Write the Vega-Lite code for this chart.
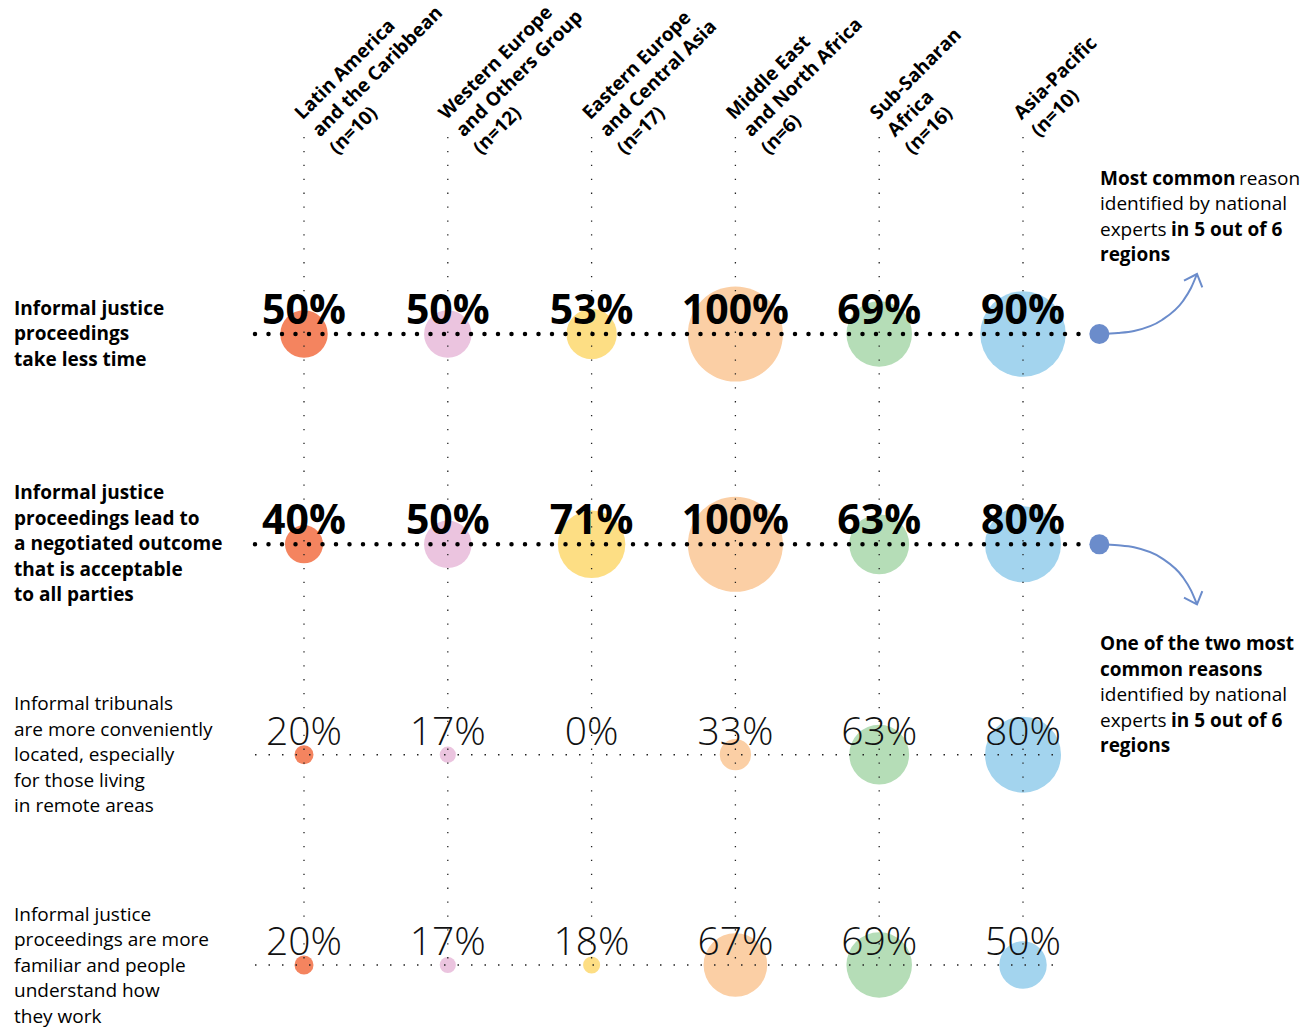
{
  "$schema": "https://vega.github.io/schema/vega-lite/v6.json",
  "width": 1314,
  "height": 1029,
  "autosize": {"type": "none"},
  "padding": 0,
  "background": "white",
  "config": {"view": {"stroke": null}, "text": {"font": "Open Sans", "color": "#000"}},
  "datasets": {
    "cells": [
      {"region": "Latin America and the Caribbean", "reason": "less time", "x": 1, "y": 1, "value": 0.50},
      {"region": "Western Europe and Others Group", "reason": "less time", "x": 2, "y": 1, "value": 0.50},
      {"region": "Eastern Europe and Central Asia", "reason": "less time", "x": 3, "y": 1, "value": 0.53},
      {"region": "Middle East and North Africa", "reason": "less time", "x": 4, "y": 1, "value": 1.00},
      {"region": "Sub-Saharan Africa", "reason": "less time", "x": 5, "y": 1, "value": 0.69},
      {"region": "Asia-Pacific", "reason": "less time", "x": 6, "y": 1, "value": 0.90},
      {"region": "Latin America and the Caribbean", "reason": "negotiated outcome", "x": 1, "y": 2, "value": 0.40},
      {"region": "Western Europe and Others Group", "reason": "negotiated outcome", "x": 2, "y": 2, "value": 0.50},
      {"region": "Eastern Europe and Central Asia", "reason": "negotiated outcome", "x": 3, "y": 2, "value": 0.71},
      {"region": "Middle East and North Africa", "reason": "negotiated outcome", "x": 4, "y": 2, "value": 1.00},
      {"region": "Sub-Saharan Africa", "reason": "negotiated outcome", "x": 5, "y": 2, "value": 0.63},
      {"region": "Asia-Pacific", "reason": "negotiated outcome", "x": 6, "y": 2, "value": 0.80},
      {"region": "Latin America and the Caribbean", "reason": "conveniently located", "x": 1, "y": 3, "value": 0.20},
      {"region": "Western Europe and Others Group", "reason": "conveniently located", "x": 2, "y": 3, "value": 0.17},
      {"region": "Eastern Europe and Central Asia", "reason": "conveniently located", "x": 3, "y": 3, "value": 0.00},
      {"region": "Middle East and North Africa", "reason": "conveniently located", "x": 4, "y": 3, "value": 0.33},
      {"region": "Sub-Saharan Africa", "reason": "conveniently located", "x": 5, "y": 3, "value": 0.63},
      {"region": "Asia-Pacific", "reason": "conveniently located", "x": 6, "y": 3, "value": 0.80},
      {"region": "Latin America and the Caribbean", "reason": "more familiar", "x": 1, "y": 4, "value": 0.20},
      {"region": "Western Europe and Others Group", "reason": "more familiar", "x": 2, "y": 4, "value": 0.17},
      {"region": "Eastern Europe and Central Asia", "reason": "more familiar", "x": 3, "y": 4, "value": 0.18},
      {"region": "Middle East and North Africa", "reason": "more familiar", "x": 4, "y": 4, "value": 0.67},
      {"region": "Sub-Saharan Africa", "reason": "more familiar", "x": 5, "y": 4, "value": 0.69},
      {"region": "Asia-Pacific", "reason": "more familiar", "x": 6, "y": 4, "value": 0.50}
    ],
    "regions": [
      {"x": 1, "header": "Latin America\nand the Caribbean\n(n=10)"},
      {"x": 2, "header": "Western Europe\nand Others Group\n(n=12)"},
      {"x": 3, "header": "Eastern Europe\nand Central Asia\n(n=17)"},
      {"x": 4, "header": "Middle East\nand North Africa\n(n=6)"},
      {"x": 5, "header": "Sub-Saharan\nAfrica\n(n=16)"},
      {"x": 6, "header": "Asia-Pacific\n(n=10)"}
    ],
    "reasons": [
      {"y": 1, "strong": true, "label": "Informal justice\nproceedings\ntake less time"},
      {"y": 2, "strong": true, "label": "Informal justice\nproceedings lead to\na negotiated outcome\nthat is acceptable\nto all parties"},
      {"y": 3, "strong": false, "label": "Informal tribunals\nare more conveniently\nlocated, especially\nfor those living\nin remote areas"},
      {"y": 4, "strong": false, "label": "Informal justice\nproceedings are more\nfamiliar and people\nunderstand how\nthey work"}
    ],
    "notes": [
      {"x": 6.5355, "y": 0.2916, "bold": true, "text": "Most common"},
      {"x": 7.5021, "y": 0.2916, "bold": false, "text": "reason"},
      {"x": 6.5355, "y": 0.4128, "bold": false, "text": "identified by national"},
      {"x": 6.5355, "y": 0.5341, "bold": false, "text": "experts"},
      {"x": 7.0292, "y": 0.5341, "bold": true, "text": "in 5 out of 6"},
      {"x": 6.5355, "y": 0.6553, "bold": true, "text": "regions"},
      {"x": 6.5355, "y": 2.5024, "bold": true, "text": "One of the two most"},
      {"x": 6.5355, "y": 2.6241, "bold": true, "text": "common reasons"},
      {"x": 6.5355, "y": 2.7458, "bold": false, "text": "identified by national"},
      {"x": 6.5355, "y": 2.8675, "bold": false, "text": "experts"},
      {"x": 7.0292, "y": 2.8675, "bold": true, "text": "in 5 out of 6"},
      {"x": 6.5355, "y": 2.9892, "bold": true, "text": "regions"}
    ],
    "curves": [
      {"id": "up", "o": 0, "x": 6.5355, "y": 1.0},
      {"id": "up", "o": 1, "x": 6.6606, "y": 0.99525},
      {"id": "up", "o": 2, "x": 6.7719, "y": 0.98574},
      {"id": "up", "o": 3, "x": 6.9666, "y": 0.93344},
      {"id": "up", "o": 4, "x": 7.1127, "y": 0.84310},
      {"id": "up", "o": 5, "x": 7.1683, "y": 0.78130},
      {"id": "up", "o": 6, "x": 7.2100, "y": 0.71474},
      {"id": "down", "o": 0, "x": 6.5355, "y": 2.0},
      {"id": "down", "o": 1, "x": 6.6606, "y": 2.00475},
      {"id": "down", "o": 2, "x": 6.7719, "y": 2.01426},
      {"id": "down", "o": 3, "x": 6.9666, "y": 2.06656},
      {"id": "down", "o": 4, "x": 7.1127, "y": 2.15690},
      {"id": "down", "o": 5, "x": 7.1683, "y": 2.21870},
      {"id": "down", "o": 6, "x": 7.2100, "y": 2.28526}
    ],
    "heads": [
      {"id": "up", "o": 0, "x": 7.1196, "y": 0.74659},
      {"id": "up", "o": 1, "x": 7.2100, "y": 0.71474},
      {"id": "up", "o": 2, "x": 7.2469, "y": 0.77797},
      {"id": "down", "o": 0, "x": 7.1196, "y": 2.25341},
      {"id": "down", "o": 1, "x": 7.2100, "y": 2.28526},
      {"id": "down", "o": 2, "x": 7.2469, "y": 2.22203}
    ],
    "dots": [
      {"x": 6.531, "y": 1},
      {"x": 6.531, "y": 2}
    ]
  },
  "layer": [
    {
      "data": {"name": "cells"},
      "mark": {"type": "point", "shape": "circle", "filled": true, "opacity": 1, "strokeWidth": 0},
      "encoding": {
        "x": {"field": "x", "type": "quantitative", "scale": {"domain": [1, 6], "range": [304, 1023], "nice": false, "zero": false}, "axis": null},
        "y": {"field": "y", "type": "quantitative", "scale": {"domain": [1, 4], "range": [334, 965], "nice": false, "zero": false}, "axis": null},
        "size": {"field": "value", "type": "quantitative", "scale": {"type": "pow", "exponent": 2, "domain": [0, 1], "range": [0, 9025]}, "legend": null},
        "color": {"field": "region", "type": "nominal", "legend": null, "scale": {
          "domain": ["Latin America and the Caribbean", "Western Europe and Others Group", "Eastern Europe and Central Asia", "Middle East and North Africa", "Sub-Saharan Africa", "Asia-Pacific"],
          "range": ["#F4845F", "#EBC4DF", "#FDDE84", "#FBCFA5", "#B5DDB7", "#A3D4EE"]}}
      }
    },
    {
      "data": {"name": "regions"},
      "mark": {"type": "rule", "color": "#222", "strokeWidth": 1.3, "strokeDash": [1.3, 12.6]},
      "encoding": {
        "x": {"field": "x", "type": "quantitative"},
        "y": {"datum": 0.0634, "type": "quantitative"},
        "y2": {"datum": 4}
      }
    },
    {
      "data": {"name": "reasons"},
      "transform": [{"filter": "datum.strong"}],
      "mark": {"type": "rule", "color": "#000", "strokeWidth": 4.5, "strokeCap": "round", "strokeDash": [0, 13.5]},
      "encoding": {
        "x": {"datum": 0.6592, "type": "quantitative"},
        "x2": {"datum": 6.4103},
        "y": {"field": "y", "type": "quantitative"}
      }
    },
    {
      "data": {"name": "reasons"},
      "transform": [{"filter": "!datum.strong"}],
      "mark": {"type": "rule", "color": "#222", "strokeWidth": 1.5, "strokeDash": [1.5, 12]},
      "encoding": {
        "x": {"datum": 0.6592, "type": "quantitative"},
        "x2": {"datum": 6.2712},
        "y": {"field": "y", "type": "quantitative"}
      }
    },
    {
      "data": {"name": "cells"},
      "transform": [{"filter": "datum.y <= 2"}],
      "mark": {"type": "text", "fontSize": 41, "fontWeight": "bold", "align": "center", "baseline": "alphabetic", "dy": -10},
      "encoding": {
        "x": {"field": "x", "type": "quantitative"},
        "y": {"field": "y", "type": "quantitative"},
        "text": {"field": "value", "type": "quantitative", "format": ".0%"}
      }
    },
    {
      "data": {"name": "cells"},
      "transform": [{"filter": "datum.y > 2"}],
      "mark": {"type": "text", "fontSize": 39, "fontWeight": 300, "align": "center", "baseline": "alphabetic", "dy": -10, "color": "#111"},
      "encoding": {
        "x": {"field": "x", "type": "quantitative"},
        "y": {"field": "y", "type": "quantitative"},
        "text": {"field": "value", "type": "quantitative", "format": ".0%"}
      }
    },
    {
      "data": {"name": "reasons"},
      "transform": [{"filter": "datum.y == 1"}],
      "mark": {"type": "text", "fontSize": 19, "fontWeight": "bold", "align": "left", "baseline": "middle", "lineBreak": "\n", "lineHeight": 25.5, "dy": -25.5},
      "encoding": {
        "x": {"datum": -1.0167, "type": "quantitative"},
        "y": {"field": "y", "type": "quantitative"},
        "text": {"field": "label"}
      }
    },
    {
      "data": {"name": "reasons"},
      "transform": [{"filter": "datum.y == 2"}],
      "mark": {"type": "text", "fontSize": 19, "fontWeight": "bold", "align": "left", "baseline": "middle", "lineBreak": "\n", "lineHeight": 25.5, "dy": -51},
      "encoding": {
        "x": {"datum": -1.0167, "type": "quantitative"},
        "y": {"field": "y", "type": "quantitative"},
        "text": {"field": "label"}
      }
    },
    {
      "data": {"name": "reasons"},
      "transform": [{"filter": "datum.y > 2"}],
      "mark": {"type": "text", "fontSize": 19, "fontWeight": "normal", "align": "left", "baseline": "middle", "lineBreak": "\n", "lineHeight": 25.5, "dy": -50.5},
      "encoding": {
        "x": {"datum": -1.0167, "type": "quantitative"},
        "y": {"field": "y", "type": "quantitative"},
        "text": {"field": "label"}
      }
    },
    {
      "data": {"name": "regions"},
      "mark": {"type": "text", "fontSize": 19, "fontWeight": "bold", "align": "left", "baseline": "alphabetic", "angle": -45, "dx": -7, "dy": 5, "lineBreak": "\n", "lineHeight": 24.5},
      "encoding": {
        "x": {"field": "x", "type": "quantitative"},
        "y": {"datum": -0.0555, "type": "quantitative"},
        "text": {"field": "header"}
      }
    },
    {
      "data": {"name": "notes"},
      "transform": [{"filter": "datum.bold"}],
      "mark": {"type": "text", "fontSize": 19, "fontWeight": "bold", "align": "left", "baseline": "alphabetic"},
      "encoding": {
        "x": {"field": "x", "type": "quantitative"},
        "y": {"field": "y", "type": "quantitative"},
        "text": {"field": "text"}
      }
    },
    {
      "data": {"name": "notes"},
      "transform": [{"filter": "!datum.bold"}],
      "mark": {"type": "text", "fontSize": 19, "fontWeight": "normal", "align": "left", "baseline": "alphabetic"},
      "encoding": {
        "x": {"field": "x", "type": "quantitative"},
        "y": {"field": "y", "type": "quantitative"},
        "text": {"field": "text"}
      }
    },
    {
      "data": {"name": "curves"},
      "mark": {"type": "line", "color": "#6B8CCB", "strokeWidth": 2, "interpolate": "monotone"},
      "encoding": {
        "x": {"field": "x", "type": "quantitative"},
        "y": {"field": "y", "type": "quantitative"},
        "detail": {"field": "id"},
        "order": {"field": "o", "type": "quantitative"}
      }
    },
    {
      "data": {"name": "heads"},
      "mark": {"type": "line", "color": "#6B8CCB", "strokeWidth": 2},
      "encoding": {
        "x": {"field": "x", "type": "quantitative"},
        "y": {"field": "y", "type": "quantitative"},
        "detail": {"field": "id"},
        "order": {"field": "o", "type": "quantitative"}
      }
    },
    {
      "data": {"name": "dots"},
      "mark": {"type": "point", "shape": "circle", "filled": true, "opacity": 1, "color": "#6B8CCB", "size": 400, "strokeWidth": 0},
      "encoding": {
        "x": {"field": "x", "type": "quantitative"},
        "y": {"field": "y", "type": "quantitative"}
      }
    }
  ]
}
